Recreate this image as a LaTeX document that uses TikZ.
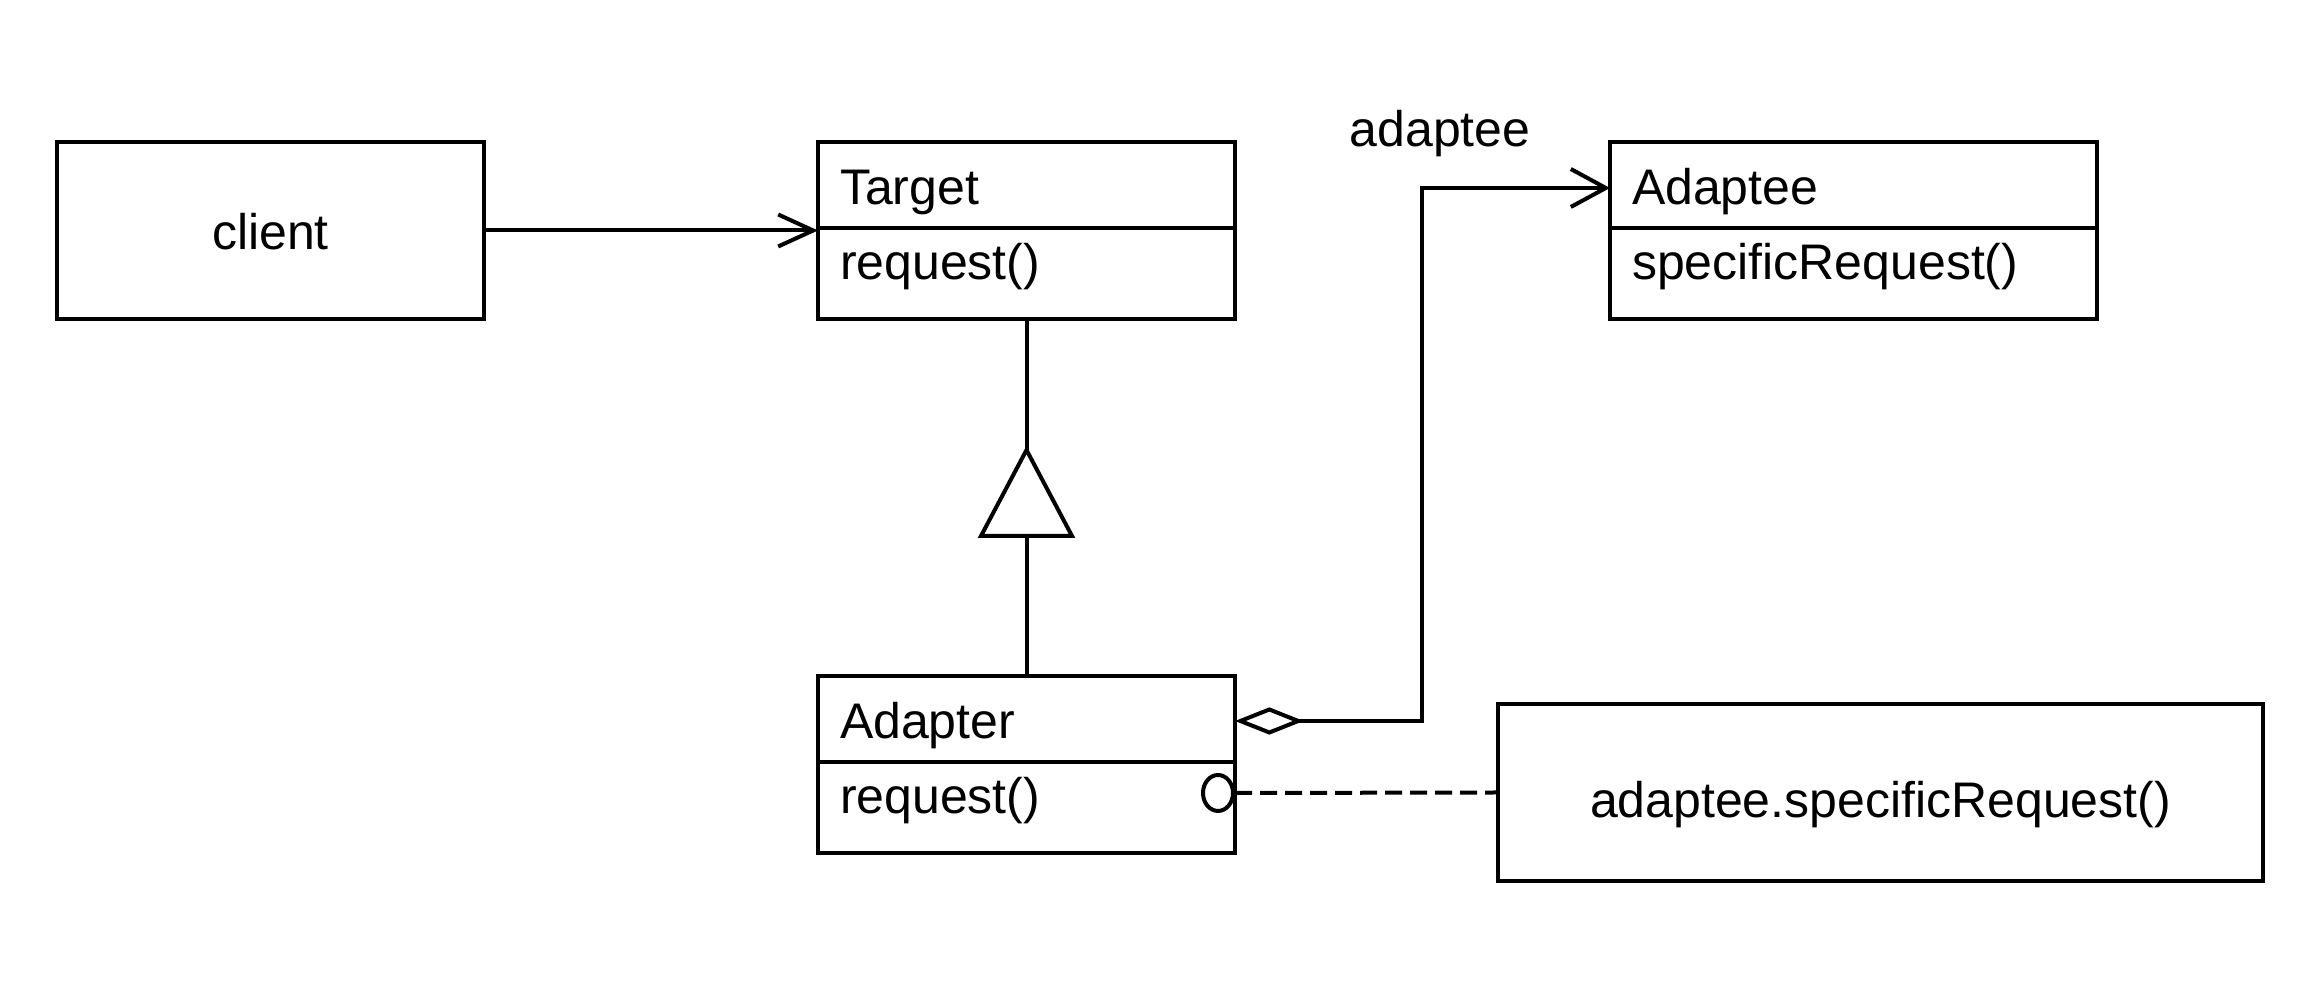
\documentclass[tikz,border=0pt]{standalone}
\usepackage{fontspec}
\setmainfont{Liberation Sans}
\usetikzlibrary{arrows.meta,calc,shapes.geometric}
\begin{document}
\begin{tikzpicture}[x=0.3pt,y=-0.3pt,line width=1.2pt,
  txt/.style={font=\fontsize{15}{18}\selectfont,inner sep=0pt},
  classbox/.style={draw,rectangle,inner sep=0pt,outer sep=0pt,minimum height=53.1pt},
  plainbox/.style={draw,rectangle,inner sep=0pt,outer sep=0pt,minimum height=53.1pt,
    font=\fontsize{15}{18}\selectfont,text depth=0pt},
  compname/.style={txt,anchor=base west},
  callarrow/.style={-{Straight Barb[length=10.5pt,width=9.6pt]}},
  aggr/.style={{Diamond[open,length=20.6pt,width=8.2pt]}-{Straight Barb[length=10.5pt,width=11.4pt]}},
  note/.style={dash pattern=on 5.1pt off 2.4pt}]
\useasboundingbox (0,0) rectangle (2319,989);

% boxes
\node[plainbox,minimum width=128.1pt,text height=11.7pt] (client) at (270.5,230.5) {client};
\node[classbox,minimum width=125.1pt] (target) at (1026.5,230.5) {};
\node[classbox,minimum width=146.1pt] (adaptee) at (1853.5,230.5) {};
\node[classbox,minimum width=125.1pt] (adapter) at (1026.5,764.5) {};
\node[plainbox,minimum width=229.5pt,text height=15.3pt] (impl) at (1880.5,792.5) {adaptee.specificRequest()};

% compartment dividers
\foreach \c in {target,adaptee,adapter}
  \draw ($(\c.north west)+(0,86.5)$) -- ($(\c.north east)+(0,86.5)$);

% class names and operations
\node[compname] (tname) at ($(target.north west)+(20,62.5)$) {Target};
\node[compname] (top)   at ($(target.north west)+(20,137.5)$) {request()};
\node[compname] (aname) at ($(adaptee.north west)+(20,62.5)$) {Adaptee};
\node[compname] (aop)   at ($(adaptee.north west)+(20,137.5)$) {specificRequest()};
\node[compname] (dname) at ($(adapter.north west)+(20,62.5)$) {Adapter};
\node[compname] (dop)   at ($(adapter.north west)+(20,137.5)$) {request()};

% client -> Target
\draw[callarrow] (client.east) -- (target.west);

% inheritance: Adapter -> Target
\coordinate (apex) at ($(target.south)+(0,131)$);
\coordinate (basemid) at ($(apex)+(0,86)$);
\draw (adapter.north) -- (basemid);
\draw (apex) -- ($(basemid)+(-45.5,0)$) -- ($(basemid)+(45.5,0)$) -- cycle;
\draw (apex) -- (target.south);

% aggregation: Adapter -> Adaptee
\coordinate (aggout) at ($(adapter.north east)+(0,45)$);
\coordinate (aggin) at ($(adaptee.north west)+(0,46)$);
\coordinate (aggturn) at ($(aggout)+(187,0)$);
\draw[aggr] (aggout) -- (aggturn) |- (aggin);
\node[txt,anchor=base] (rolelbl) at (1440,147) {adaptee};

% implementation note
\node[draw,ellipse,inner sep=0pt,minimum width=9pt,minimum height=10.8pt,fill=white]
  (port) at ($(adapter.north east)+(-17,117)$) {};
\draw[note] (port.east) -- (impl.west);
\end{tikzpicture}
\end{document}
